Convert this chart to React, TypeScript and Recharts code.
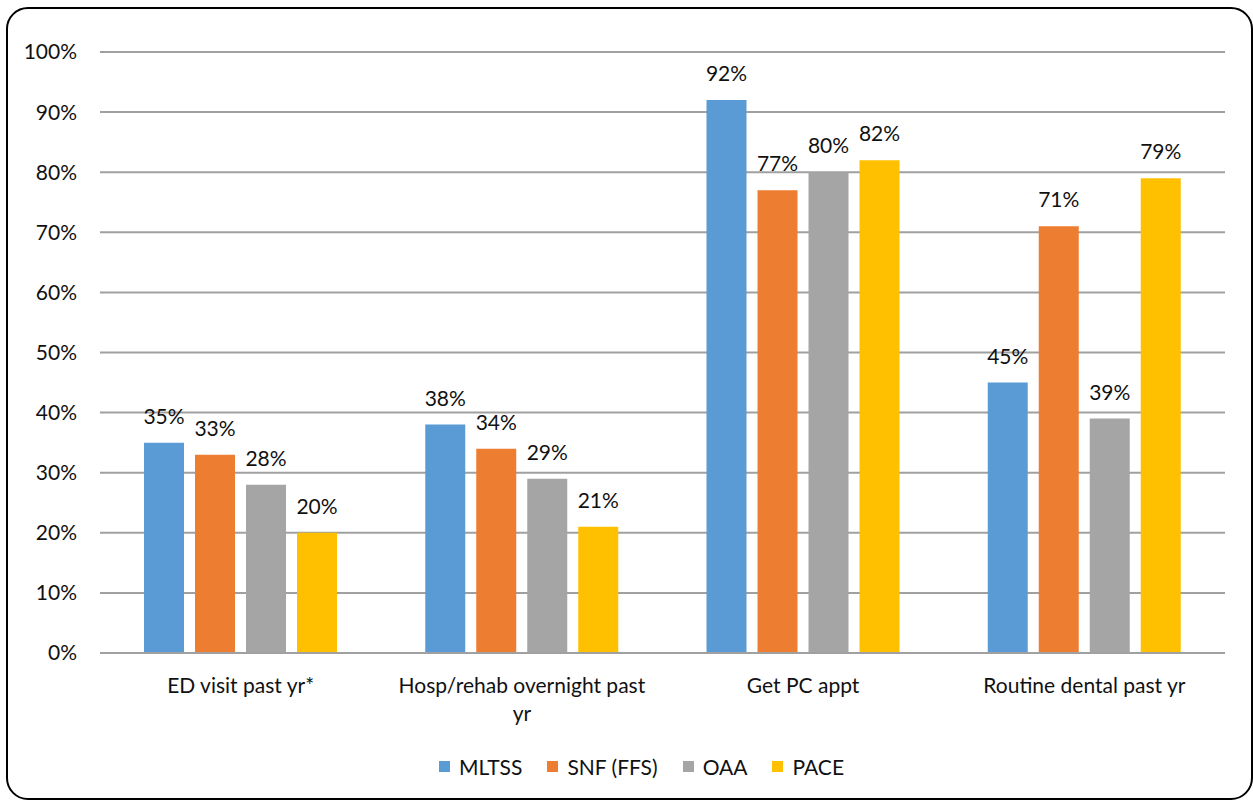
import React from 'react';
import { BarChart, Bar, XAxis, YAxis, CartesianGrid, Legend, LabelList } from 'recharts';

const categories = ['ED visit past yr*', 'Hosp/rehab overnight past yr', 'Get PC appt', 'Routine dental past yr'];
const tickLines: Record<string, string[]> = {
  'ED visit past yr*': ['ED visit past yr*'],
  'Hosp/rehab overnight past yr': ['Hosp/rehab overnight past', 'yr'],
  'Get PC appt': ['Get PC appt'],
  'Routine dental past yr': ['Routine dental past yr'],
};
const mltss = [35, 38, 92, 45];
const snf = [33, 34, 77, 71];
const oaa = [28, 29, 80, 39];
const pace = [20, 21, 82, 79];
const yTicks = [0, 10, 20, 30, 40, 50, 60, 70, 80, 90, 100];

const seriesNames = ['MLTSS', 'SNF (FFS)', 'OAA', 'PACE'];
const seriesKeys = ['mltss', 'snf', 'oaa', 'pace'];
const seriesColors = ['#5B9BD5', '#ED7D31', '#A5A5A5', '#FFC000'];

const data = categories.map((c, i) => ({
  name: c,
  mltss: mltss[i],
  snf: snf[i],
  oaa: oaa[i],
  pace: pace[i],
}));

const FONT = 'Lato, "Open Sans", sans-serif';
const FS = 21;
const TEXT_COLOR = '#111';

const XTick = (props: any) => {
  const { x, y, payload } = props;
  const lines = tickLines[payload.value] || [payload.value];
  return (
    <text
      x={x}
      y={y + 32}
      textAnchor="middle"
      style={{ fontFamily: FONT, fontSize: FS, fill: TEXT_COLOR }}
    >
      {lines.map((l, i) => (
        <tspan key={i} x={x} dy={i === 0 ? 0 : 28}>
          {l}
        </tspan>
      ))}
    </text>
  );
};

const BarLabel = (props: any) => {
  const { x, y, width, value } = props;
  return (
    <text
      x={x + width / 2}
      y={y - 19}
      textAnchor="middle"
      style={{ fontFamily: FONT, fontSize: FS, fill: TEXT_COLOR }}
    >
      {value}%
    </text>
  );
};

const LegendContent = () => (
  <div style={{ display: 'flex', justifyContent: 'center', alignItems: 'center', fontFamily: FONT, fontSize: FS, color: TEXT_COLOR, paddingLeft: 30 }}>
    {seriesNames.map((n, i) => (
      <div key={n} style={{ display: 'flex', alignItems: 'center', marginRight: i < 3 ? 25 : 0 }}>
        <div style={{ width: 11, height: 11, background: seriesColors[i], marginRight: 9 }} />
        <span>{n}</span>
      </div>
    ))}
  </div>
);

export default function App() {
  return (
    <div style={{ position: 'absolute', left: 0, top: 0, width: 1253, height: 802, background: '#fff', overflow: 'hidden' }}>
      <div
        style={{
          position: 'absolute',
          left: 6,
          top: 7,
          width: 1247,
          height: 793,
          boxSizing: 'border-box',
          border: '2px solid #000',
          borderRadius: 22,
        }}
      />
      <div style={{ position: 'absolute', left: 0, top: 0 }}>
        <BarChart
          width={1253}
          height={802}
          data={data}
          margin={{ top: 52, right: 28, left: 0, bottom: 69 }}
          barSize={40}
          barGap={11}
        >
          <CartesianGrid vertical={false} stroke="#a0a0a0" strokeWidth={2} />
          <XAxis
            dataKey="name"
            height={80}
            tickLine={false}
            axisLine={{ stroke: '#a0a0a0', strokeWidth: 2 }}
            tick={<XTick />}
            interval={0}
          />
          <YAxis
            width={100}
            domain={[0, 100]}
            ticks={yTicks}
            tickFormatter={(v: number) => `${v}%`}
            axisLine={false}
            tickLine={false}
            tickSize={0}
            tickMargin={23}
            tick={{ fontFamily: FONT, fontSize: FS, fill: TEXT_COLOR }}
          />
          <Legend
            layout="horizontal"
            verticalAlign="middle"
            align="center"
            wrapperStyle={{ top: 754, left: 0, width: 1253 }}
            content={<LegendContent />}
          />
          {seriesKeys.map((k, i) => (
            <Bar key={k} dataKey={k} name={seriesNames[i]} fill={seriesColors[i]} isAnimationActive={false}>
              <LabelList dataKey={k} content={<BarLabel />} />
            </Bar>
          ))}
        </BarChart>
      </div>
    </div>
  );
}
